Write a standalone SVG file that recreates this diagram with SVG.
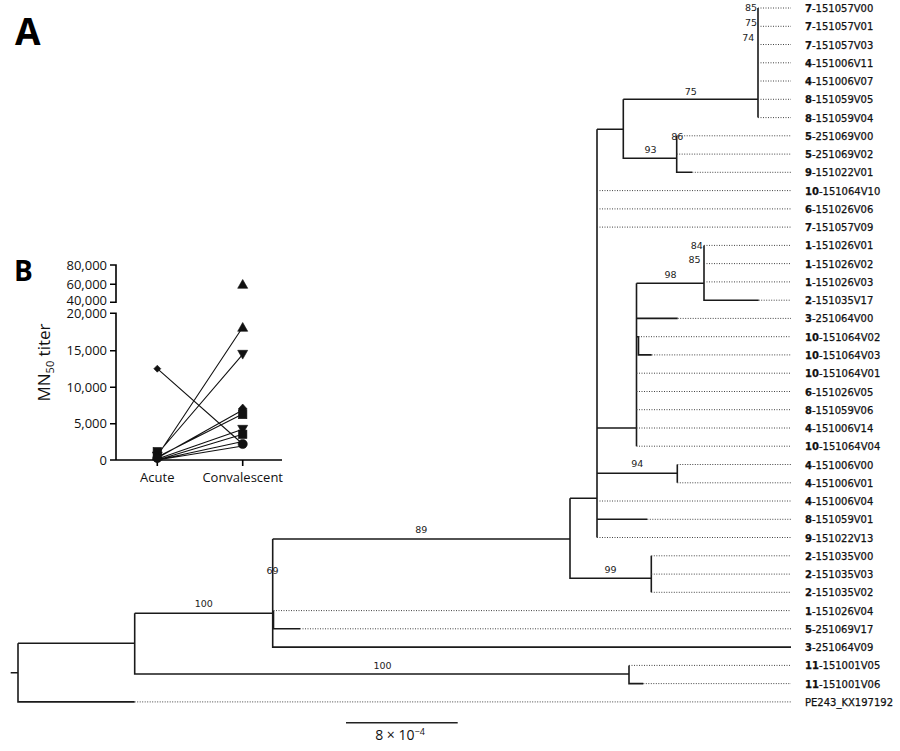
<svg xmlns="http://www.w3.org/2000/svg" xmlns:xlink="http://www.w3.org/1999/xlink" width="900" height="751" viewBox="0 0 900 751">
<style>
.br{fill:none;stroke:#1a1a1a;stroke-width:1.6}
.dot{fill:none;stroke:#444;stroke-width:1;stroke-dasharray:1 1.5}
.lf{font-family:"DejaVu Sans",Verdana,sans-serif;font-size:10px;fill:#111;stroke:#111;stroke-width:0.25}
.lf tspan.p{font-weight:bold}
.bs{font-family:"DejaVu Sans",Verdana,sans-serif;font-size:9.5px;fill:#222;text-anchor:middle}
.ax{fill:none;stroke:#000;stroke-width:1.6}
.tk{font-family:"Open Sans",sans-serif;font-size:13px;fill:#111;text-anchor:end}
.xl{font-family:"Open Sans",sans-serif;font-size:13px;fill:#111;text-anchor:middle}
.pl{font-family:"Open Sans",sans-serif;font-weight:bold;fill:#000}
.dl{fill:none;stroke:#111;stroke-width:1.1}
.mk{fill:#111;stroke:#111;stroke-width:0.6}
</style>
<defs>
<path id="tu" d="M0,-4.8 L5,4 L-5,4 Z"/>
<path id="td" d="M0,4.8 L5,-4 L-5,-4 Z"/>
<path id="dm" d="M0,-5 L4.5,0 L0,5 L-4.5,0 Z"/>
<rect id="sq" x="-4.2" y="-4.2" width="8.4" height="8.4"/>
<circle id="ci" r="4.6"/>
</defs>
<rect width="900" height="751" fill="#fff"/>

<text class="pl" x="15" y="45" font-size="37">A</text>

<g id="connectors">
<path class="br" d="M758,8 V117.6 M623.3,99.3 H758 M623.3,99.3 V158.3 H676.7 M676.7,135.8 V172.3 H692.3 M597,129.3 H623.3 M597,129.3 V537.5 M597,428 H636.5 M597,473.3 H677.3 M677.3,464.5 V482.8 M597,519.3 H647.3 M570,498.3 H597 M636.5,283.3 V446.2 M636.5,283.3 H704 M636.5,318.4 H677.7 M636.5,336.7 H638.5 V354.9 H651.7 M704,245.4 V300.2 H758.7 M570,498.3 V578.3 H651.3 M651.3,555.8 V592.3 M272.7,539 H570 M272.7,539 V647.1 H791 M273.5,610.6 V628.8 H300 M134.7,613.3 H272.7 M134.7,613.3 V674 H629 M629,665.4 V683.6 H643.3 M18,643.3 H134.7 M18,643.3 V701.9 H134.7 M10.7,672.7 H18"/>
<path class="dot" d="M758,8 H791 M758,26.3 H791 M758,44.5 H791 M758,62.8 H791 M758,81 H791 M758,99.3 H791 M758,117.6 H791 M676.7,135.8 H791 M676.7,154.1 H791 M692.3,172.3 H791 M597,190.6 H791 M597,208.9 H791 M597,227.1 H791 M704,245.4 H791 M704,263.6 H791 M704,281.9 H791 M758.7,300.2 H791 M677.7,318.4 H791 M638.5,336.7 H791 M651.7,354.9 H791 M636.5,373.2 H791 M636.5,391.5 H791 M636.5,409.7 H791 M636.5,428 H791 M636.5,446.2 H791 M677.3,464.5 H791 M677.3,482.8 H791 M597,501 H791 M647.3,519.3 H791 M597,537.5 H791 M651.3,555.8 H791 M651.3,574.1 H791 M651.3,592.3 H791 M273.5,610.6 H791 M300,628.8 H791 M629,665.4 H791 M643.3,683.6 H791 M134.7,701.9 H791"/>
</g>

<g id="support">
<text class="bs" x="751" y="11.3">85</text>
<text class="bs" x="751" y="26">75</text>
<text class="bs" x="748.3" y="41.3">74</text>
<text class="bs" x="690.8" y="94.7">75</text>
<text class="bs" x="677.2" y="140">86</text>
<text class="bs" x="650.5" y="153.3">93</text>
<text class="bs" x="696.8" y="249">84</text>
<text class="bs" x="694.5" y="263.3">85</text>
<text class="bs" x="670.5" y="278.3">98</text>
<text class="bs" x="637.2" y="467.3">94</text>
<text class="bs" x="610.5" y="572.7">99</text>
<text class="bs" x="421.2" y="533.3">89</text>
<text class="bs" x="272.5" y="574">69</text>
<text class="bs" x="203.7" y="607.3">100</text>
<text class="bs" x="382.5" y="669">100</text>
</g>

<g id="leaf-01"><text class="lf" x="805" y="12"><tspan class="p">7</tspan>-151057V00</text></g>
<g id="leaf-02"><text class="lf" x="805" y="30.3"><tspan class="p">7</tspan>-151057V01</text></g>
<g id="leaf-03"><text class="lf" x="805" y="48.5"><tspan class="p">7</tspan>-151057V03</text></g>
<g id="leaf-04"><text class="lf" x="805" y="66.8"><tspan class="p">4</tspan>-151006V11</text></g>
<g id="leaf-05"><text class="lf" x="805" y="85"><tspan class="p">4</tspan>-151006V07</text></g>
<g id="leaf-06"><text class="lf" x="805" y="103.3"><tspan class="p">8</tspan>-151059V05</text></g>
<g id="leaf-07"><text class="lf" x="805" y="121.6"><tspan class="p">8</tspan>-151059V04</text></g>
<g id="leaf-08"><text class="lf" x="805" y="139.8"><tspan class="p">5</tspan>-251069V00</text></g>
<g id="leaf-09"><text class="lf" x="805" y="158.1"><tspan class="p">5</tspan>-251069V02</text></g>
<g id="leaf-10"><text class="lf" x="805" y="176.3"><tspan class="p">9</tspan>-151022V01</text></g>
<g id="leaf-11"><text class="lf" x="805" y="194.6"><tspan class="p">10</tspan>-151064V10</text></g>
<g id="leaf-12"><text class="lf" x="805" y="212.9"><tspan class="p">6</tspan>-151026V06</text></g>
<g id="leaf-13"><text class="lf" x="805" y="231.1"><tspan class="p">7</tspan>-151057V09</text></g>
<g id="leaf-14"><text class="lf" x="805" y="249.4"><tspan class="p">1</tspan>-151026V01</text></g>
<g id="leaf-15"><text class="lf" x="805" y="267.6"><tspan class="p">1</tspan>-151026V02</text></g>
<g id="leaf-16"><text class="lf" x="805" y="285.9"><tspan class="p">1</tspan>-151026V03</text></g>
<g id="leaf-17"><text class="lf" x="805" y="304.2"><tspan class="p">2</tspan>-151035V17</text></g>
<g id="leaf-18"><text class="lf" x="805" y="322.4"><tspan class="p">3</tspan>-251064V00</text></g>
<g id="leaf-19"><text class="lf" x="805" y="340.7"><tspan class="p">10</tspan>-151064V02</text></g>
<g id="leaf-20"><text class="lf" x="805" y="358.9"><tspan class="p">10</tspan>-151064V03</text></g>
<g id="leaf-21"><text class="lf" x="805" y="377.2"><tspan class="p">10</tspan>-151064V01</text></g>
<g id="leaf-22"><text class="lf" x="805" y="395.5"><tspan class="p">6</tspan>-151026V05</text></g>
<g id="leaf-23"><text class="lf" x="805" y="413.7"><tspan class="p">8</tspan>-151059V06</text></g>
<g id="leaf-24"><text class="lf" x="805" y="432"><tspan class="p">4</tspan>-151006V14</text></g>
<g id="leaf-25"><text class="lf" x="805" y="450.2"><tspan class="p">10</tspan>-151064V04</text></g>
<g id="leaf-26"><text class="lf" x="805" y="468.5"><tspan class="p">4</tspan>-151006V00</text></g>
<g id="leaf-27"><text class="lf" x="805" y="486.8"><tspan class="p">4</tspan>-151006V01</text></g>
<g id="leaf-28"><text class="lf" x="805" y="505"><tspan class="p">4</tspan>-151006V04</text></g>
<g id="leaf-29"><text class="lf" x="805" y="523.3"><tspan class="p">8</tspan>-151059V01</text></g>
<g id="leaf-30"><text class="lf" x="805" y="541.5"><tspan class="p">9</tspan>-151022V13</text></g>
<g id="leaf-31"><text class="lf" x="805" y="559.8"><tspan class="p">2</tspan>-151035V00</text></g>
<g id="leaf-32"><text class="lf" x="805" y="578.1"><tspan class="p">2</tspan>-151035V03</text></g>
<g id="leaf-33"><text class="lf" x="805" y="596.3"><tspan class="p">2</tspan>-151035V02</text></g>
<g id="leaf-34"><text class="lf" x="805" y="614.6"><tspan class="p">1</tspan>-151026V04</text></g>
<g id="leaf-35"><text class="lf" x="805" y="632.8"><tspan class="p">5</tspan>-251069V17</text></g>
<g id="leaf-36"><text class="lf" x="805" y="651.1"><tspan class="p">3</tspan>-251064V09</text></g>
<g id="leaf-37"><text class="lf" x="805" y="669.4"><tspan class="p">11</tspan>-151001V05</text></g>
<g id="leaf-38"><text class="lf" x="805" y="687.6"><tspan class="p">11</tspan>-151001V06</text></g>
<g id="leaf-39"><text class="lf" x="805" y="705.9" stroke-width="0">PE243_KX197192</text></g>

<g id="scale-bar">
<line x1="346" y1="722.7" x2="457.7" y2="722.7" stroke="#222" stroke-width="1.6"/>
<text x="400" y="739.5" font-family="Open Sans, sans-serif" font-size="14" fill="#111" text-anchor="middle">8 × 10<tspan dy="-5" font-size="9">−4</tspan></text>
</g>

<g id="panel-B">
<text class="pl" x="14" y="281" font-size="28">B</text>
<path class="ax" d="M110,265 H116 V302.3 H110 M110,284.3 H116 M110,313.3 H116 V460 H282 M110,350.7 H116 M110,387.3 H116 M110,423.7 H116 M110,460 H116 M157.3,460 V466 M242.7,460 V466"/>
<text class="tk" x="107" y="269.5">80,000</text>
<text class="tk" x="107" y="288.8">60,000</text>
<text class="tk" x="107" y="305">40,000</text>
<text class="tk" x="107" y="317.5">20,000</text>
<text class="tk" x="107" y="355.2">15,000</text>
<text class="tk" x="107" y="391.8">10,000</text>
<text class="tk" x="107" y="428.2">5,000</text>
<text class="tk" x="107" y="464.5">0</text>
<text class="xl" x="157.3" y="481.5">Acute</text>
<text class="xl" x="242.7" y="481.5">Convalescent</text>
<text transform="translate(50,362.5) rotate(-90)" font-family="Open Sans, sans-serif" font-size="17" fill="#111" text-anchor="middle">MN<tspan font-size="11" dy="4">50</tspan><tspan dy="-4"> titer</tspan></text>
<path class="dl" d="M157.3,456 L242.7,327.3 M157.3,454 L242.7,354.3 M157.3,458 L242.7,410 M157.3,457 L242.7,414 M157.3,459 L242.7,429.3 M157.3,460 L242.7,434.3 M157.3,460 L242.7,441.5 M157.3,460 L242.7,446 M157.3,368.7 L242.7,444"/>
<g class="mk">
<use xlink:href="#tu" x="242.7" y="284.3"/>
<use xlink:href="#tu" x="242.7" y="327.3"/>
<use xlink:href="#td" x="242.7" y="354.3"/>
<use xlink:href="#dm" x="242.7" y="409"/>
<use xlink:href="#sq" x="242.7" y="414.5"/>
<use xlink:href="#td" x="242.7" y="429.3"/>
<use xlink:href="#sq" x="242.7" y="434.3"/>
<use xlink:href="#ci" x="242.7" y="444"/>
<path d="M157.3,365.2 L160.8,368.7 L157.3,372.2 L153.8,368.7 Z"/>
<use xlink:href="#sq" x="157.3" y="451.7"/>
<use xlink:href="#td" x="157.3" y="456"/>
<use xlink:href="#tu" x="157.3" y="456"/>
<use xlink:href="#ci" x="157.3" y="458"/>
<use xlink:href="#dm" x="157.3" y="458"/>
</g>
</g>
</svg>
